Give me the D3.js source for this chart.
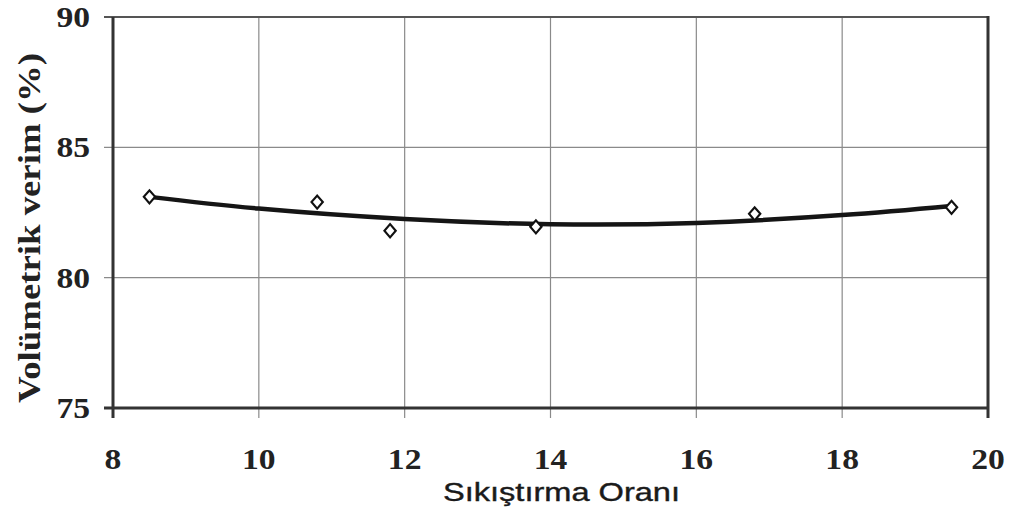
<!DOCTYPE html>
<html>
<head>
<meta charset="utf-8">
<script src="https://cdn.jsdelivr.net/npm/d3@7"></script>
<style>
  body { margin: 0; background: #fff; }
</style>
</head>
<body>
<script>

// measured points
const ratio = [8.5, 10.8, 11.8, 13.8, 16.8, 19.5]
const verim = [83.1, 82.9, 81.8, 81.95, 82.45, 82.7]

// trend curve
const fitX = [8.5, 10, 12, 14, 16, 18, 19.5]
const fitY = [83.1, 82.65, 82.25, 82.05, 82.1, 82.4, 82.75]

const xTicks = [8, 10, 12, 14, 16, 18, 20]
const yTicks = [75, 80, 85, 90]

const m = {
    width: 1011,
    height: 525,
    left: 113,
    right: 23,
    top: 17,
    bottom: 117
}

const svg = d3.select("body").append('svg')
    .attr('width', m.width)
    .attr('height', m.height)

const x = d3.scaleLinear()
    .domain([8, 20])
    .range([m.left, m.width - m.right])

const y = d3.scaleLinear()
    .domain([75, 90])
    .range([m.height - m.bottom, m.top])

const g = svg.append('g')

// grid lines
g.selectAll('.vgrid')
    .data(xTicks.slice(1, -1))
    .enter()
    .append('line')
        .attr('x1', d => x(d))
        .attr('x2', d => x(d))
        .attr('y1', y(90))
        .attr('y2', y(75) + 10)
        .attr('stroke', '#8a8a8a')
        .attr('stroke-width', 1.2)

g.selectAll('.hgrid')
    .data(yTicks.slice(1, -1))
    .enter()
    .append('line')
        .attr('x1', x(8) - 9)
        .attr('x2', x(20))
        .attr('y1', d => y(d))
        .attr('y2', d => y(d))
        .attr('stroke', '#8a8a8a')
        .attr('stroke-width', 1.2)

// frame
g.append('line')
    .attr('x1', x(8) - 9).attr('x2', x(20))
    .attr('y1', y(90)).attr('y2', y(90))
    .attr('stroke', '#555').attr('stroke-width', 2)
g.append('line')
    .attr('x1', x(20)).attr('x2', x(20))
    .attr('y1', y(90) - 1).attr('y2', y(75) + 10)
    .attr('stroke', '#333').attr('stroke-width', 3)
g.append('line')
    .attr('x1', x(8) - 9).attr('x2', x(20))
    .attr('y1', y(75)).attr('y2', y(75))
    .attr('stroke', '#333').attr('stroke-width', 3)
g.append('line')
    .attr('x1', x(8)).attr('x2', x(8))
    .attr('y1', y(90)).attr('y2', y(75) + 10)
    .attr('stroke', '#333').attr('stroke-width', 3)

// tick labels (slightly widened like the scanned figure)
g.selectAll('.xlab')
    .data(xTicks)
    .enter()
    .append('text')
        .attr('transform', d => 'translate(' + x(d) + ',469) scale(1.12,1)')
        .attr('text-anchor', 'middle')
        .attr('font-family', 'Liberation Serif, serif')
        .attr('font-weight', 'bold')
        .attr('font-size', 30)
        .attr('fill', '#222')
        .text(d => d)

g.selectAll('.ylab')
    .data(yTicks)
    .enter()
    .append('text')
        .attr('transform', d => 'translate(90,' + (y(d) + 10) + ') scale(1.12,1)')
        .attr('text-anchor', 'end')
        .attr('font-family', 'Liberation Serif, serif')
        .attr('font-weight', 'bold')
        .attr('font-size', 30)
        .attr('fill', '#222')
        .text(d => d)

// axis titles
svg.append('text')
    .attr('transform', 'translate(40,' + 228 + ') rotate(-90)')
    .attr('text-anchor', 'middle')
    .attr('font-family', 'Liberation Serif, serif')
    .attr('font-weight', 'bold')
    .attr('font-size', 31)
    .attr('fill', '#222')
    .attr('textLength', 350)
    .attr('lengthAdjust', 'spacingAndGlyphs')
    .text('Volümetrik verim (%)')

svg.append('text')
    .attr('x', 443)
    .attr('y', 501)
    .attr('font-family', 'Liberation Sans, Arial, sans-serif')
    .attr('font-size', 25)
    .attr('fill', '#1a1a1a')
    .attr('stroke', '#1a1a1a')
    .attr('stroke-width', 0.4)
    .attr('textLength', 237)
    .attr('lengthAdjust', 'spacingAndGlyphs')
    .text('Sıkıştırma Oranı')

// trend curve
const line = d3.line()
    .x(d => x(d[0]))
    .y(d => y(d[1]))
    .curve(d3.curveNatural)

g.append('path')
    .datum(fitX.map((d, i) => [d, fitY[i]]))
    .attr('d', line)
    .attr('fill', 'none')
    .attr('stroke', '#151515')
    .attr('stroke-width', 4.5)

// diamonds
g.selectAll('.pt')
    .data(ratio.map((d, i) => [d, verim[i]]))
    .enter()
    .append('path')
        .attr('d', d3.symbol(d3.symbolSquare, 64))
        .attr('transform', d => 'translate(' + x(d[0]) + ',' + y(d[1]) + ') scale(1,1.15) rotate(45)')
        .attr('fill', '#fff')
        .attr('stroke', '#111')
        .attr('stroke-width', 2)

</script>
</body>
</html>
